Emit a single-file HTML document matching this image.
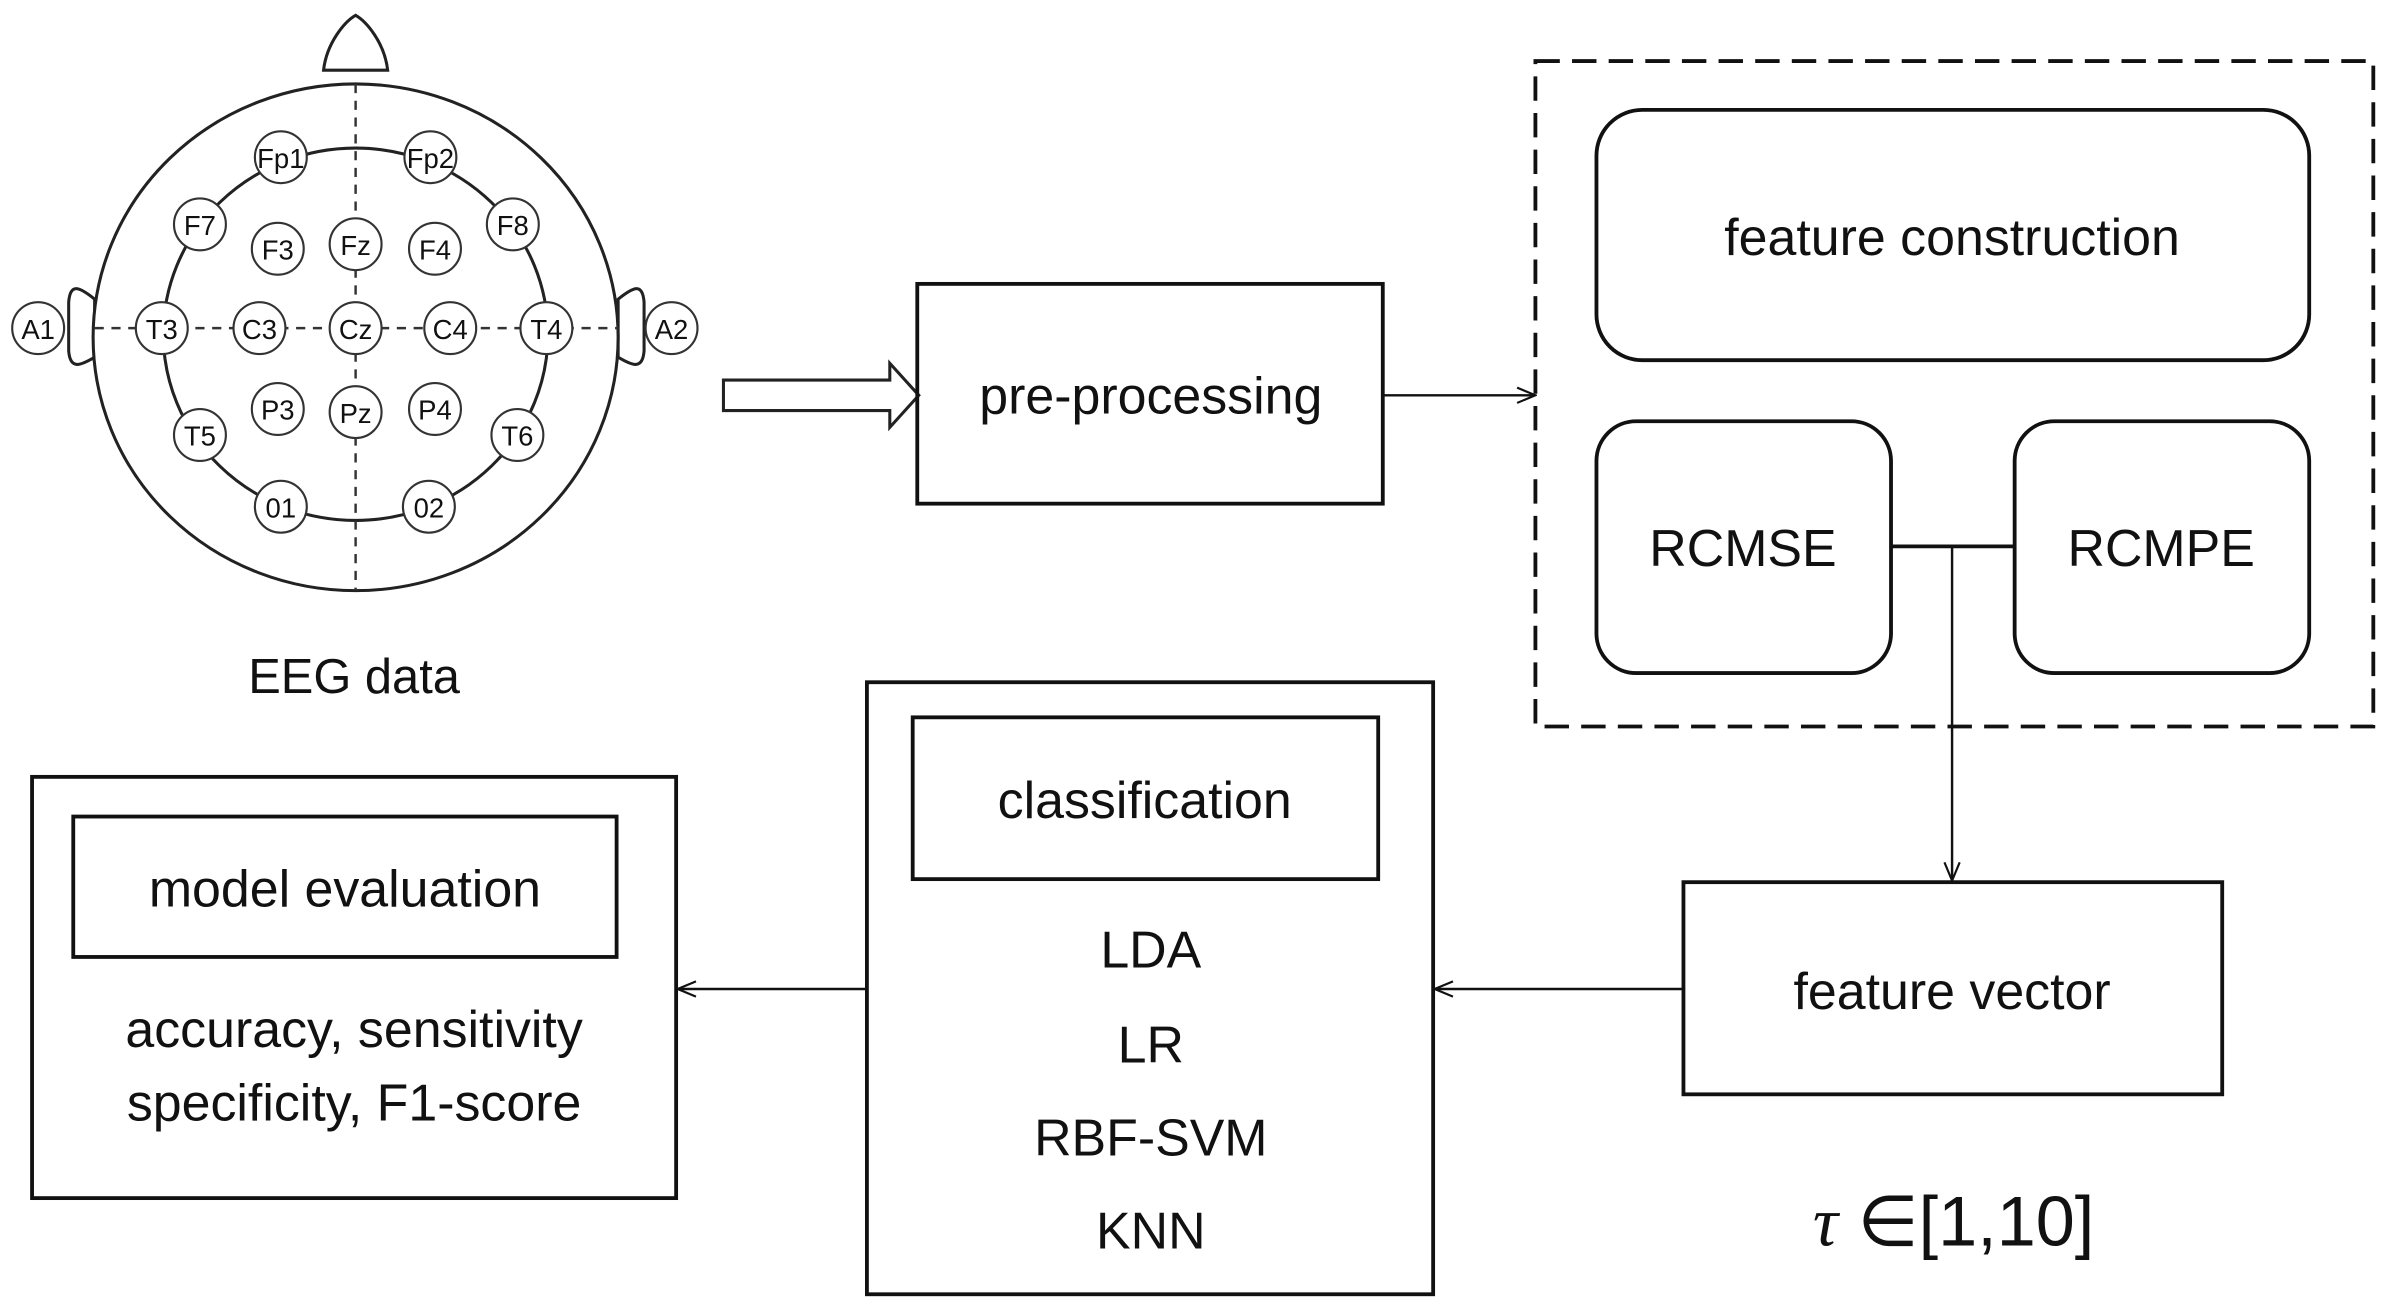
<!DOCTYPE html>
<html><head><meta charset="utf-8"><style>
html,body{margin:0;padding:0;background:#fff;}
svg{display:block;}
text{font-family:"Liberation Sans","DejaVu Sans",sans-serif;fill:#111;}
</style></head><body>
<svg width="2384" height="1308" viewBox="0 0 1562 857" xmlns="http://www.w3.org/2000/svg">
<defs>
<marker id="ah" markerWidth="14" markerHeight="12" refX="13" refY="6" orient="auto" markerUnits="userSpaceOnUse">
<path d="M1,1 L13,6 L1,11" fill="none" stroke="#111" stroke-width="1.4"/>
</marker>
</defs>
<g stroke="#222" stroke-width="2" fill="none">
<path d="M212,46 C214,28 226,14 233,10 C240,14 252,28 254,46 Z"/>
<path d="M62,196 C52,188 46,185 45,198 L45,230 C46,242 52,240 62,234 Z"/>
<path d="M405,196 C415,188 421,185 422,198 L422,230 C421,242 415,240 405,234 Z"/>
<ellipse cx="233" cy="221" rx="172" ry="166" fill="#fff"/>
<ellipse cx="233" cy="219" rx="126" ry="122"/>
</g>
<g stroke="#333" stroke-width="1.6" stroke-dasharray="6,5">
<line x1="233" y1="55" x2="233" y2="387"/>
<line x1="62" y1="215" x2="405" y2="215"/>
</g>
<g stroke="#333" stroke-width="1.4" fill="#fff">
<circle cx="184" cy="103" r="17"/><circle cx="282" cy="103" r="17"/>
<circle cx="131" cy="147" r="17"/><circle cx="336" cy="147" r="17"/>
<circle cx="182" cy="163" r="17"/><circle cx="233" cy="160" r="17"/><circle cx="285" cy="163" r="17"/>
<circle cx="106" cy="215" r="17"/><circle cx="170" cy="215" r="17"/><circle cx="233" cy="215" r="17"/><circle cx="295" cy="215" r="17"/><circle cx="358" cy="215" r="17"/>
<circle cx="182" cy="268" r="17"/><circle cx="233" cy="270" r="17"/><circle cx="285" cy="268" r="17"/>
<circle cx="131" cy="285" r="17"/><circle cx="339" cy="285" r="17"/>
<circle cx="184" cy="332" r="17"/><circle cx="281" cy="332" r="17"/>
<circle cx="25" cy="215" r="17"/><circle cx="440" cy="215" r="17"/>
</g>
<g font-size="18" text-anchor="middle" stroke="none">
<text x="184" y="110">Fp1</text><text x="282" y="110">Fp2</text>
<text x="131" y="154">F7</text><text x="336" y="154">F8</text>
<text x="182" y="170">F3</text><text x="233" y="167">Fz</text><text x="285" y="170">F4</text>
<text x="106" y="222">T3</text><text x="170" y="222">C3</text><text x="233" y="222">Cz</text><text x="295" y="222">C4</text><text x="358" y="222">T4</text>
<text x="182" y="275">P3</text><text x="233" y="277">Pz</text><text x="285" y="275">P4</text>
<text x="131" y="292">T5</text><text x="339" y="292">T6</text>
<text x="184" y="339">01</text><text x="281" y="339">02</text>
<text x="25" y="222">A1</text><text x="440" y="222">A2</text>
</g>
<text x="232" y="454" font-size="32" text-anchor="middle">EEG data</text>

<path d="M474,249 L583,249 L583,238 L602,259 L583,280 L583,269 L474,269 Z" fill="#fff" stroke="#222" stroke-width="2"/>

<g fill="none" stroke="#111" stroke-width="2.5">
<rect x="601" y="186" width="305" height="144"/>
<rect x="1006" y="40" width="549" height="436" stroke-dasharray="16,8"/>
<rect x="1046" y="72" width="467" height="164" rx="30"/>
<rect x="1046" y="276" width="193" height="165" rx="26"/>
<rect x="1320" y="276" width="193" height="165" rx="26"/>
<rect x="1103" y="578" width="353" height="139"/>
<rect x="568" y="447" width="371" height="401"/>
<rect x="598" y="470" width="305" height="106"/>
<rect x="21" y="509" width="422" height="276"/>
<rect x="48" y="535" width="356" height="92"/>
</g>
<g stroke="#111" stroke-width="1.6" fill="none">
<line x1="906" y1="259" x2="1006" y2="259" marker-end="url(#ah)"/>
<line x1="1239" y1="358" x2="1320" y2="358" stroke-width="2.5"/>
<line x1="1279" y1="358" x2="1279" y2="577" marker-end="url(#ah)"/>
<line x1="1103" y1="648" x2="940" y2="648" marker-end="url(#ah)"/>
<line x1="568" y1="648" x2="444" y2="648" marker-end="url(#ah)"/>
</g>
<g font-size="34" text-anchor="middle">
<text x="754" y="271">pre-processing</text>
<text x="1279" y="167">feature construction</text>
<text x="1142" y="371">RCMSE</text>
<text x="1416" y="371">RCMPE</text>
<text x="1279" y="661">feature vector</text>
<text x="750" y="536">classification</text>
<text x="754" y="634">LDA</text>
<text x="754" y="696">LR</text>
<text x="754" y="757">RBF-SVM</text>
<text x="754" y="818">KNN</text>
<text x="226" y="594">model evaluation</text>
<text x="232" y="686">accuracy, sensitivity</text>
<text x="232" y="734">specificity, F1-score</text>
</g>
<text x="1280" y="816" font-size="46" text-anchor="middle"><tspan font-style="italic" font-family="Liberation Serif, serif">τ</tspan> ∈[1,10]</text>
</svg>
</body></html>
